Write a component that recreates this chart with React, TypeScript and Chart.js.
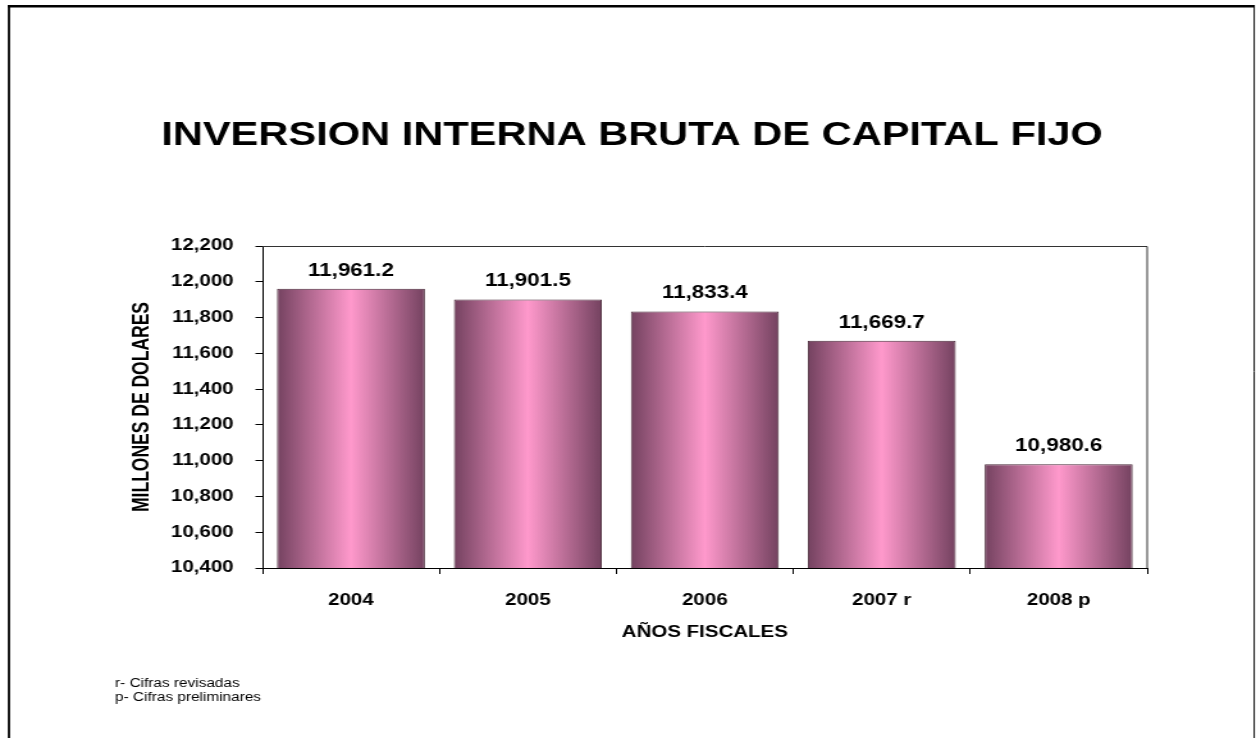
import { useEffect, useRef } from 'react';
import { Chart, registerables } from 'chart.js';

Chart.register(...registerables);

const categories = ['2004', '2005', '2006', '2007 r', '2008 p'];
const values = [11961.2, 11901.5, 11833.4, 11669.7, 10980.6];
const yMin = 10400;
const yMax = 12200;
const yStep = 200;
const chartTitle = 'INVERSION INTERNA BRUTA DE CAPITAL FIJO';
const yTitle = 'MILLONES DE DOLARES';
const xTitle = 'AÑOS FISCALES';
const footnotes = ['r- Cifras revisadas', 'p- Cifras preliminares'];

const OUT_W = 1256;
const OUT_H = 738;
const INNER_W = 981; // drawn narrower, then stretched horizontally like the reference
const SX = OUT_W / INNER_W;
const FONT = '"Liberation Sans", Arial, Helvetica, sans-serif';
const BAR_FRAC = 0.836;

const fmtTick = (v: number) => v.toLocaleString('en-US');
const fmtVal = (v: number) =>
  v.toLocaleString('en-US', { minimumFractionDigits: 1, maximumFractionDigits: 1 });

const decorPlugin = {
  id: 'decor',
  afterDraw(chart: any) {
    const { ctx, chartArea } = chart;
    ctx.save();
    // outer frame (no bottom edge)
    ctx.strokeStyle = '#000';
    ctx.lineWidth = 1.8;
    ctx.beginPath();
    ctx.moveTo(7, OUT_H);
    ctx.lineTo(7, 6.2);
    ctx.stroke();
    ctx.lineWidth = 2.6;
    ctx.beginPath();
    ctx.moveTo(6, 6.2);
    ctx.lineTo(980, 6.2);
    ctx.stroke();
    ctx.lineWidth = 1;
    ctx.beginPath();
    ctx.moveTo(979.6, 5);
    ctx.lineTo(979.6, OUT_H);
    ctx.stroke();

    // plot area top/right border
    ctx.strokeStyle = '#333';
    ctx.lineWidth = 1;
    ctx.beginPath();
    ctx.moveTo(chartArea.left, chartArea.top + 0.5);
    ctx.lineTo(chartArea.right, chartArea.top + 0.5);
    ctx.lineTo(chartArea.right, chartArea.bottom);
    ctx.stroke();

    // title
    ctx.fillStyle = '#000';
    ctx.font = `bold 32.5px ${FONT}`;
    ctx.textAlign = 'center';
    ctx.textBaseline = 'alphabetic';
    ctx.fillText(chartTitle, 632 / SX, 145);

    // data labels
    ctx.font = `bold 17.5px ${FONT}`;
    ctx.textBaseline = 'middle';
    const meta = chart.getDatasetMeta(0);
    meta.data.forEach((bar: any, i: number) => {
      ctx.fillText(fmtVal(values[i]), bar.x, bar.y - 18);
    });

    // footnotes
    ctx.font = `12px ${FONT}`;
    ctx.textAlign = 'left';
    footnotes.forEach((t, i) => ctx.fillText(t, 115 / SX, 684 + i * 14));
    ctx.restore();
  },
};

export default function App() {
  const ref = useRef<HTMLCanvasElement | null>(null);

  useEffect(() => {
    const canvas = ref.current;
    if (!canvas) return;
    const chart = new Chart(canvas, {
      type: 'bar',
      data: {
        labels: categories,
        datasets: [
          {
            data: values,
            backgroundColor: (c: any) => {
              const ch = c.chart;
              const xs = ch.scales && ch.scales.x;
              if (!xs || !ch.chartArea || c.dataIndex == null) return '#ff99cc';
              const center = xs.getPixelForValue(c.dataIndex);
              const half = ((xs.width / categories.length) * BAR_FRAC) / 2;
              const g = ch.ctx.createLinearGradient(center - half, 0, center + half, 0);
              g.addColorStop(0, '#744260');
              g.addColorStop(0.5, '#ff99cc');
              g.addColorStop(1, '#744260');
              return g;
            },
            borderColor: '#4a2a3a',
            borderWidth: 1,
            borderSkipped: false,
            categoryPercentage: BAR_FRAC,
            barPercentage: 1,
          },
        ],
      },
      options: {
        responsive: false,
        animation: false,
        devicePixelRatio: 1,
        layout: { padding: { left: 100, right: 85, top: 246, bottom: 90 } },
        plugins: {
          legend: { display: false },
          tooltip: { enabled: false },
          title: { display: false },
        },
        scales: {
          x: {
            offset: true,
            grid: {
              drawOnChartArea: false,
              drawTicks: true,
              tickLength: 6,
              color: '#000',
              offset: true,
            },
            border: { display: true, color: '#000', width: 1 },
            ticks: {
              color: '#000',
              font: { family: FONT, size: 16, weight: 'bold' },
              padding: 17,
              maxRotation: 0,
              autoSkip: false,
            },
            title: {
              display: true,
              text: xTitle,
              color: '#000',
              font: { family: FONT, size: 16, weight: 'bold' },
              padding: { top: 0, bottom: 6 },
            },
            afterFit: (s: any) => {
              s.height = 80;
            },
          },
          y: {
            min: yMin,
            max: yMax,
            grid: {
              drawOnChartArea: false,
              drawTicks: true,
              tickLength: 5.5,
              color: '#000',
            },
            border: { display: true, color: '#000', width: 1 },
            ticks: {
              stepSize: yStep,
              color: '#000',
              font: { family: FONT, size: 16, weight: 'bold' },
              padding: 17,
              callback: (v: any) => fmtTick(Number(v)),
            },
            title: {
              display: true,
              text: yTitle,
              color: '#000',
              font: { family: FONT, size: 17.5, weight: 'bold' },
              padding: { top: 0.5, bottom: 0 },
            },
            afterFit: (s: any) => {
              s.width = 105;
            },
          },
        },
      },
      plugins: [decorPlugin],
    } as any);
    return () => chart.destroy();
  }, []);

  return (
    <div
      style={{
        position: 'absolute',
        left: 0,
        top: 0,
        width: OUT_W,
        height: OUT_H,
        background: '#fff',
        overflow: 'hidden',
      }}
    >
      <canvas
        ref={ref}
        width={INNER_W}
        height={OUT_H}
        style={{ width: `${OUT_W}px`, height: `${OUT_H}px`, display: 'block' }}
      />
    </div>
  );
}
